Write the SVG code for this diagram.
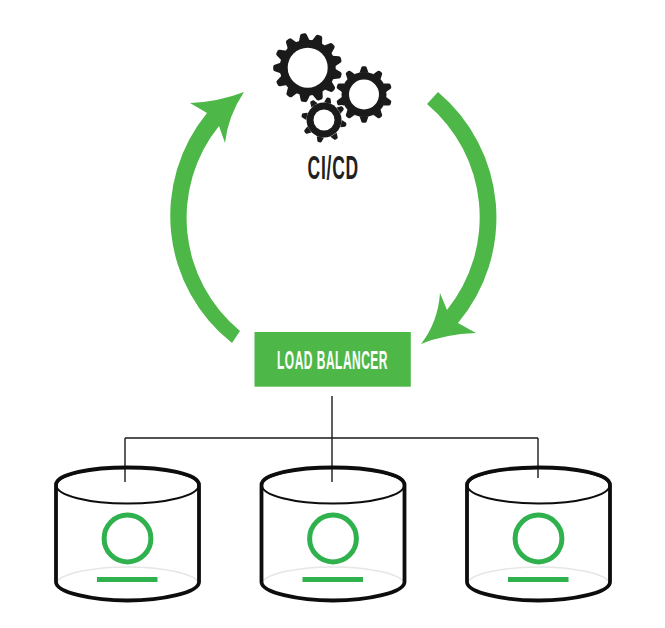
<svg xmlns="http://www.w3.org/2000/svg" width="665" height="628" viewBox="0 0 665 628">
<style>
.flow{fill:#4db848}
.dark{fill:#1a1a1a;stroke:none}
.halo{fill:#fff;stroke:#fff;stroke-width:3.500}
.hole{fill:#fff;stroke:none}
.wire{fill:none;stroke:#1a1a1a;stroke-width:1.4}
.t{font-family:"Liberation Sans Narrow","Liberation Sans",Arial,sans-serif;font-weight:700;text-anchor:start}
.rim{fill:none;stroke:#0d0d0d;stroke-width:3.8}
.thin{fill:none;stroke:#0d0d0d;stroke-width:2}
.back{fill:none;stroke:#e6e6e6;stroke-width:1.4}
.ring{fill:none;stroke:#2fb14e;stroke-width:5}
.bar{fill:#2fb14e}
</style>
<defs>
<path id="tooth" d="M-5.500-26.500L-3.300-33Q-2.800-34.500-1.200-34.500H1.200Q2.800-34.500 3.300-33L5.500-26.500Z"/>
<g id="teeth13">
<use href="#tooth" transform="rotate(-7.500)"/><use href="#tooth" transform="rotate(20.200)"/><use href="#tooth" transform="rotate(47.900)"/><use href="#tooth" transform="rotate(75.600)"/><use href="#tooth" transform="rotate(103.300)"/><use href="#tooth" transform="rotate(131)"/><use href="#tooth" transform="rotate(158.700)"/><use href="#tooth" transform="rotate(186.400)"/><use href="#tooth" transform="rotate(214.100)"/><use href="#tooth" transform="rotate(241.800)"/><use href="#tooth" transform="rotate(269.500)"/><use href="#tooth" transform="rotate(297.200)"/><use href="#tooth" transform="rotate(324.900)"/>
</g>
<g id="teeth10" transform="scale(.82)">
<use href="#tooth"/><use href="#tooth" transform="rotate(36)"/><use href="#tooth" transform="rotate(72)"/><use href="#tooth" transform="rotate(108)"/><use href="#tooth" transform="rotate(144)"/><use href="#tooth" transform="rotate(180)"/><use href="#tooth" transform="rotate(216)"/><use href="#tooth" transform="rotate(252)"/><use href="#tooth" transform="rotate(288)"/><use href="#tooth" transform="rotate(324)"/>
</g>
<g id="teeth8" transform="scale(.66)">
<use href="#tooth" transform="rotate(12)"/><use href="#tooth" transform="rotate(57)"/><use href="#tooth" transform="rotate(102)"/><use href="#tooth" transform="rotate(147)"/><use href="#tooth" transform="rotate(192)"/><use href="#tooth" transform="rotate(237)"/><use href="#tooth" transform="rotate(282)"/><use href="#tooth" transform="rotate(327)"/>
</g>
<g id="g-large"><circle r="28"/><use href="#teeth13"/></g>
<g id="g-medium"><circle r="22.500"/><use href="#teeth10"/></g>
<g id="g-small"><circle r="17.500"/><use href="#teeth8"/></g>
<g id="cyl">
<path class="back" d="M-71 114.500A72 18 0 0 1 71 114.500"/>
<ellipse class="thin" cx="0" cy="18" rx="71" ry="18"/>
<path class="rim" d="M-71.500 17.500C-71.500 6-35 0 0 0S71.500 6 71.500 17.500V114.500C71.500 125 35 133 0 133S-71.500 125-71.500 114.500Z"/>
<circle class="ring" cx="0" cy="71" r="23.400"/>
<rect class="bar" x="-30.500" y="109.500" width="60.500" height="5"/>
</g>
</defs>
<g id="connectors">
<path class="wire" d="M332 396V482M125 438H538M125 438V482M538 438V478"/>
<path class="flow" d="M427 104A148 148 0 0 1 447 310L440 293Q438 322 421 344Q445 334 476 333L458 323A164 164 0 0 0 438 92Z"/>
<path class="flow" d="M240 331A146.500 146.500 0 0 1 219 126L225 143Q228 116 244 92Q218 102 190 103L207 113A162 162 0 0 0 232 343Z"/>
</g>
<g id="cicd">
<g id="gear-large" transform="translate(307.700 67.700)"><use class="dark" href="#g-large"/><circle class="hole" r="20"/></g>
<g id="gear-medium" transform="translate(364 94.500)"><use class="halo" href="#g-medium"/><use class="dark" href="#g-medium"/><circle class="hole" r="15"/></g>
<g id="gear-small" transform="translate(324 120)"><use class="halo" href="#g-small"/><use class="dark" href="#g-small"/><circle class="hole" r="10.500"/></g>
<text class="t" x="307.500" y="179" font-size="33" letter-spacing="1.500" fill="#231f20" textLength="51.500" lengthAdjust="spacingAndGlyphs">CI/CD</text>
</g>
<g id="load-balancer">
<rect x="254.500" y="332" width="156.300" height="54.700" fill="#4db848"/>
<text class="t" x="277" y="369" font-size="25" letter-spacing="1" fill="#fff" textLength="111" lengthAdjust="spacingAndGlyphs">LOAD BALANCER</text>
</g>
<g id="cylinder-1"><use href="#cyl" x="127.500" y="467.500"/></g>
<g id="cylinder-2"><use href="#cyl" x="333" y="467.500"/></g>
<g id="cylinder-3"><use href="#cyl" x="538.500" y="467.500"/></g>
</svg>
